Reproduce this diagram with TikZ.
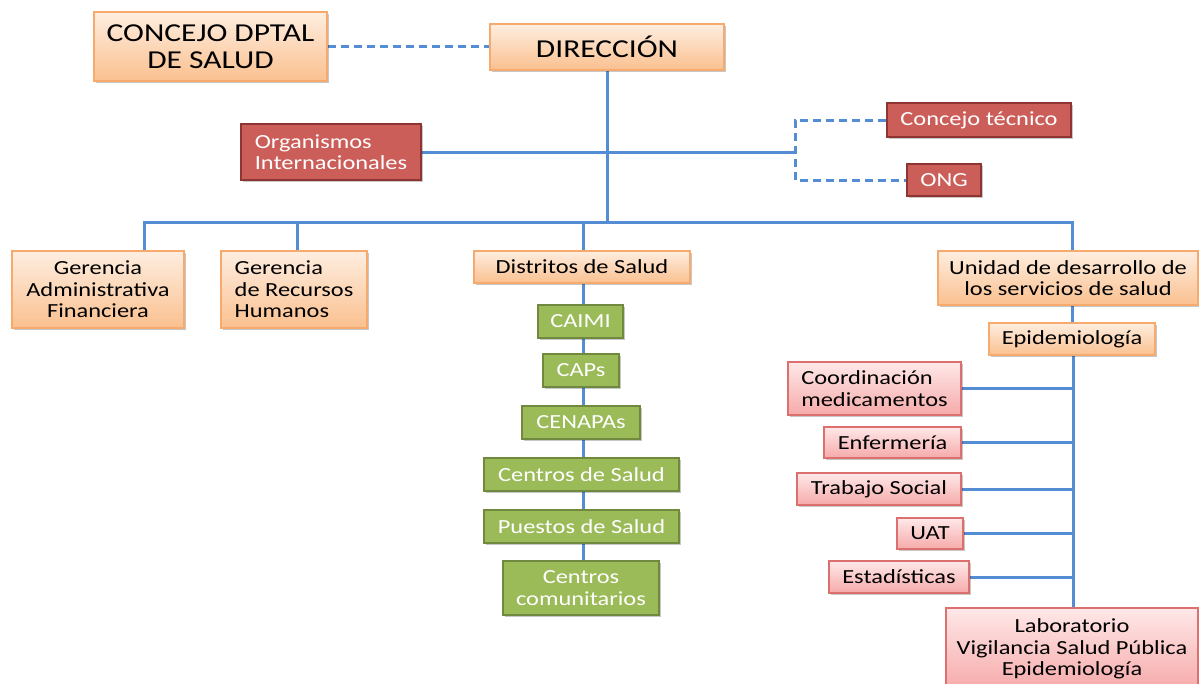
\documentclass[tikz,border=0pt]{standalone}
\usepackage{fontspec}
\setmainfont{Carlito}[FakeStretch=1.22]
\usetikzlibrary{shadows,backgrounds}
\definecolor{linkblue}{RGB}{84,141,212}
\definecolor{orgtop}{RGB}{254,238,224}
\definecolor{orgbot}{RGB}{250,192,143}
\definecolor{orgline}{RGB}{246,170,110}
\definecolor{redfill}{RGB}{204,94,90}
\definecolor{redline}{RGB}{142,53,51}
\definecolor{greenfill}{RGB}{155,187,89}
\definecolor{greenline}{RGB}{113,137,63}
\definecolor{pinktop}{RGB}{255,232,232}
\definecolor{pinkbot}{RGB}{246,170,170}
\definecolor{pinkline}{RGB}{220,112,110}
\tikzset{
  box/.style={rectangle, inner sep=0pt, align=center, line width=1.2pt,
    font=\fontsize{20}{21.5}\selectfont,
    drop shadow={shadow xshift=1.5pt, shadow yshift=-2pt, opacity=0.22, fill=black}},
  orangebox/.style={box, draw=orgline, top color=orgtop, bottom color=orgbot, text=black},
  bigbox/.style={orangebox, font=\fontsize{25.8}{27}\selectfont},
  redbox/.style={box, draw=redline, fill=redfill, text=white, line width=1.6pt},
  greenbox/.style={box, draw=greenline, fill=greenfill, text=white, line width=1.6pt},
  pinkbox/.style={box, draw=pinkline, top color=pinktop, bottom color=pinkbot, text=black},
  link/.style={draw=linkblue, line width=3pt},
  dlink/.style={link, dash pattern=on 8pt off 5pt},
  sz/.style 2 args={minimum width=#1pt, minimum height=#2pt},
}
\begin{document}
\begin{tikzpicture}[x=1pt,y=-1pt]
\path[use as bounding box] (0,0) rectangle (1199,683);

% top level
\node[bigbox, sz={233}{69}] (cds) at (210.5,46.5) {CONCEJO DPTAL\\DE SALUD};
\node[bigbox, sz={234}{46}] (dir) at (607,47) {DIRECCIÓN};

% advisory bodies
\node[redbox, sz={180}{56}, align=left] (org) at (331,152) {Organismos\\Internacionales};
\node[redbox, sz={184}{34}] (ct) at (979,120) {Concejo técnico};
\node[redbox, sz={74}{32}] (ong) at (944,180) {ONG};

% second level
\node[orangebox, sz={172}{77}] (gaf) at (98,289.5) {Gerencia\\Administrativa\\Financiera};
\node[orangebox, sz={146}{77}, align=left] (grh) at (294,289.5) {Gerencia\\de Recursos\\Humanos};
\node[orangebox, sz={216}{32}] (dis) at (582,267) {Distritos de Salud};
\node[orangebox, sz={260}{54}] (uni) at (1068,278) {Unidad de desarrollo de\\los servicios de salud};

% health districts chain
\node[greenbox, sz={85}{33}] (caimi) at (580.5,321.5) {CAIMI};
\node[greenbox, sz={76}{33}] (caps) at (581,370.5) {CAPs};
\node[greenbox, sz={118}{33}] (cen) at (581,422.5) {CENAPAs};
\node[greenbox, sz={195}{33}] (cs) at (581.5,474.5) {Centros de Salud};
\node[greenbox, sz={195}{33}] (ps) at (581.5,526.5) {Puestos de Salud};
\node[greenbox, sz={156}{54}] (com) at (581,588) {Centros\\comunitarios};

% health services unit
\node[orangebox, sz={166}{32}] (epi) at (1072,339) {Epidemiología};
\node[pinkbox, sz={173}{53}, align=left] (coo) at (874.5,388.5) {Coordinación\\medicamentos};
\node[pinkbox, sz={137}{31}] (enf) at (892.5,442.5) {Enfermería};
\node[pinkbox, sz={164}{32}] (tra) at (879,489) {Trabajo Social};
\node[pinkbox, sz={66}{31}] (uat) at (930,533.5) {UAT};
\node[pinkbox, sz={140}{32}] (est) at (899,577) {Estadísticas};
\node[pinkbox, sz={252}{82}] (lab) at (1072,649) {Laboratorio\\Vigilancia Salud Pública\\Epidemiología};

% junction points
\coordinate (busL) at (144,222);
\coordinate (busR) at (1072,222);
\coordinate (dropG) at (297,222);
\coordinate (dropD) at (583,222);
\coordinate (brk) at (795,152);
\coordinate (spine) at (1073,0);

\begin{scope}[on background layer]
  \draw[dlink] (cds.east) -- (cds.east -| dir.west);
  \draw[link] (dir.south) -- (dir.south |- busL);
  \draw[link] (org.east) -- (brk);
  \draw[dlink] (ct.west) -| (brk) |- (ong.west);
  \draw[link] (busL |- gaf.north) -- (busL) -- (busR) -- (busR |- uni.north);
  \draw[link] (dropG) -- (dropG |- grh.north);
  \draw[link] (dropD) -- (dropD |- dis.north);
  \draw[link] (dropD |- dis.south) -- (dropD |- com.north);
  \draw[link] (busR |- uni.south) -- (busR |- epi.north);
  \draw[link] (spine |- epi.south) -- (spine |- lab.north);
  \draw[link] (coo.east) -- (coo.east -| spine);
  \draw[link] (enf.east) -- (enf.east -| spine);
  \draw[link] (tra.east) -- (tra.east -| spine);
  \draw[link] (uat.east) -- (uat.east -| spine);
  \draw[link] (est.east) -- (est.east -| spine);
\end{scope}
\end{tikzpicture}
\end{document}
